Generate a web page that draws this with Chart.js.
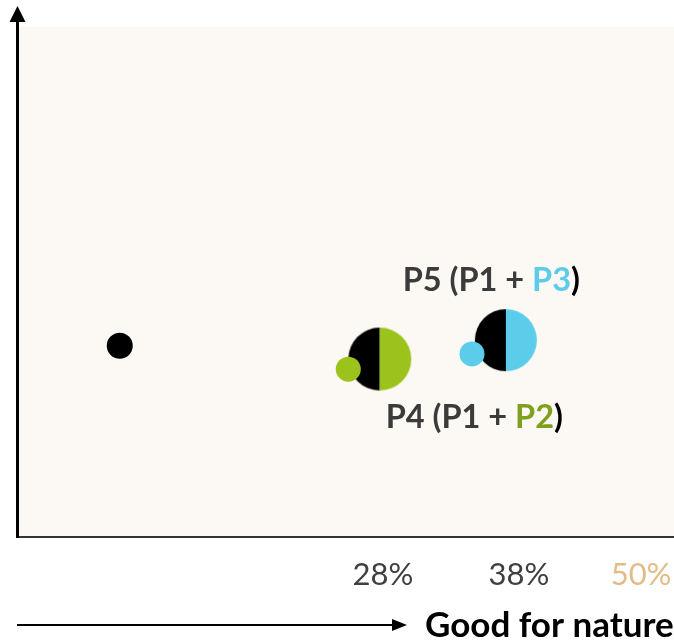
<!DOCTYPE html>
<html>
<head>
<meta charset="utf-8">
<script src="https://cdn.jsdelivr.net/npm/chart.js@4"></script>
<style>
  html, body { margin: 0; padding: 0; background: #ffffff; }
  #wrap { width: 674px; height: 643px; }
</style>
</head>
<body>
<div id="wrap"><canvas id="chart" width="674" height="643"></canvas></div>
<script>
// Axis ticks along "Good for nature"
const tickValues = [28, 38, 50];
const tickLabels = ['28%', '38%', '50%'];
const tickColors = ['#404040', '#404040', '#E3BB87'];

// Practices: P1 alone, P2 / P3 as small marks, P4 / P5 as combined marks
const p1Points = [{ x: 15.5, y: 37.5 }];
const p2Points = [{ x: 25.9, y: 32.9 }];
const p3Points = [{ x: 34.2, y: 35.9 }];
const p4Points = [{ x: 27.8, y: 34.9 }];
const p5Points = [{ x: 36.9, y: 38.6 }];

const BLACK = '#000000';
const GREEN = '#9CC31C';
const GREEN_TEXT = '#7DA11B';
const BLUE = '#5BCDEB';
const DARK = '#3B3B3B';
const PLOT_BG = '#FCF9F4';

// Two-tone marker: left half black, right half coloured
function halfCircle(color, r) {
  const c = document.createElement('canvas');
  const size = Math.ceil(r * 2) + 2;
  c.width = size; c.height = size;
  const g = c.getContext('2d');
  const m = size / 2;
  g.fillStyle = BLACK;
  g.beginPath(); g.moveTo(m, m); g.arc(m, m, r, Math.PI / 2, Math.PI * 1.5); g.closePath(); g.fill();
  g.fillStyle = color;
  g.beginPath(); g.moveTo(m, m); g.arc(m, m, r, -Math.PI / 2, Math.PI / 2); g.closePath(); g.fill();
  return c;
}

function drawRich(ctx, parts, cx, baseline, font) {
  ctx.font = font;
  const widths = parts.map(p => ctx.measureText(p[0]).width);
  const total = widths.reduce((a, b) => a + b, 0);
  let x = cx - total / 2;
  ctx.textAlign = 'left';
  ctx.textBaseline = 'alphabetic';
  parts.forEach((p, i) => {
    ctx.fillStyle = p[1];
    ctx.fillText(p[0], x, baseline);
    x += widths[i];
  });
}

const decorations = {
  id: 'decorations',
  beforeDraw(chart) {
    const { ctx, chartArea: a } = chart;
    ctx.save();
    ctx.fillStyle = PLOT_BG;
    ctx.fillRect(a.left, a.top, a.right - a.left, a.bottom - a.top);
    ctx.restore();
  },
  afterDraw(chart) {
    const { ctx, chartArea: a } = chart;
    ctx.save();
    // x axis line
    ctx.strokeStyle = '#333333';
    ctx.lineWidth = 2;
    ctx.beginPath(); ctx.moveTo(a.left - 3, a.bottom); ctx.lineTo(a.right, a.bottom); ctx.stroke();
    // y axis with arrow head
    const ax = a.left - 1.5;
    ctx.strokeStyle = BLACK;
    ctx.lineWidth = 3;
    ctx.beginPath(); ctx.moveTo(ax, a.bottom + 1); ctx.lineTo(ax, 20); ctx.stroke();
    ctx.fillStyle = BLACK;
    ctx.beginPath(); ctx.moveTo(ax, 6); ctx.lineTo(ax - 8, 22); ctx.lineTo(ax + 8, 22); ctx.closePath(); ctx.fill();
    // "Good for nature" direction arrow
    const ay = 625;
    ctx.lineWidth = 2;
    ctx.beginPath(); ctx.moveTo(a.left - 2, ay); ctx.lineTo(395, ay); ctx.stroke();
    ctx.beginPath(); ctx.moveTo(407, ay); ctx.lineTo(392, ay - 6); ctx.lineTo(392, ay + 6); ctx.closePath(); ctx.fill();
    ctx.font = 'bold 35px Lato';
    ctx.textAlign = 'left';
    ctx.textBaseline = 'alphabetic';
    ctx.fillText('Good for nature', 425, 637);

    // Combination labels
    const font = 'bold 32.5px Lato';
    const p4 = chart.getDatasetMeta(3).data[0];
    const p5 = chart.getDatasetMeta(4).data[0];
    drawRich(ctx, [['P5 (P1 + ', DARK], ['P3', BLUE], [')', BLACK]], p5.x - 14.5, p5.y - 49, font);
    drawRich(ctx, [['P4 (P1 + ', DARK], ['P2', GREEN_TEXT], [')', BLACK]], p4.x + 94.5, p4.y + 69, font);
    ctx.restore();
  }
};

new Chart(document.getElementById('chart'), {
  type: 'scatter',
  data: {
    datasets: [
      { label: 'P2', data: p2Points, backgroundColor: GREEN, borderWidth: 0, pointRadius: 12.5, pointHoverRadius: 12.5 },
      { label: 'P3', data: p3Points, backgroundColor: BLUE, borderWidth: 0, pointRadius: 12.5, pointHoverRadius: 12.5 },
      { label: 'P1', data: p1Points, backgroundColor: BLACK, borderWidth: 0, pointRadius: 13, pointHoverRadius: 13 },
      { label: 'P4', data: p4Points, pointStyle: halfCircle(GREEN, 31.5), pointRadius: 31, borderWidth: 0 },
      { label: 'P5', data: p5Points, pointStyle: halfCircle(BLUE, 31), pointRadius: 31, borderWidth: 0 }
    ]
  },
  options: {
    responsive: false,
    animation: false,
    devicePixelRatio: 1,
    layout: { autoPadding: false, padding: { left: 19, top: 27, right: 0, bottom: 0 } },
    plugins: { legend: { display: false }, tooltip: { enabled: false } },
    scales: {
      x: {
        type: 'logarithmic',
        position: 'bottom',
        min: 12.36,
        max: 53.84,
        grid: { display: false, drawTicks: false },
        border: { display: false },
        afterBuildTicks(scale) { scale.ticks = tickValues.map(v => ({ value: v })); },
        afterFit(scale) {
          scale.height = 106;
          scale.paddingLeft = 0;
          scale.paddingRight = 0;
        },
        ticks: {
          autoSkip: false,
          maxRotation: 0,
          minRotation: 0,
          padding: 19,
          font: { family: 'Lato', size: 31 },
          color: (c) => tickColors[c.index],
          callback: (v, i) => tickLabels[i]
        }
      },
      y: {
        type: 'linear',
        min: 0,
        max: 100,
        display: false
      }
    }
  },
  plugins: [decorations]
});
</script>
</body>
</html>
